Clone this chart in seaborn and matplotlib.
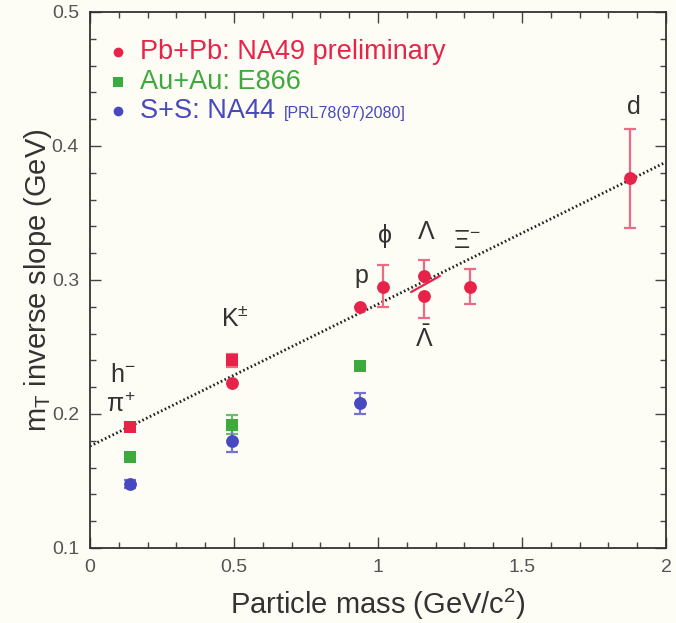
import matplotlib
matplotlib.use("Agg")
import matplotlib.pyplot as plt
import numpy as np
import pandas as pd
import seaborn as sns
from matplotlib.ticker import MultipleLocator

# Pb+Pb: NA49 preliminary (circles)
pb_mass = [0.494, 0.938, 1.019, 1.16, 1.16, 1.321, 1.876]
pb_slope = [0.223, 0.280, 0.295, 0.303, 0.288, 0.295, 0.376]
pb_err_lo = [0.0, 0.0, 0.015, 0.0, 0.016, 0.013, 0.037]
pb_err_hi = [0.0, 0.0, 0.016, 0.012, 0.0, 0.013, 0.037]
# Pb+Pb: NA49 negative hadrons / kaons (squares)
pbh_mass = [0.14, 0.494]
pbh_slope = [0.190, 0.240]
pbh_err = [0.003, 0.005]
# Au+Au: E866
au_mass = [0.14, 0.494, 0.938]
au_slope = [0.168, 0.192, 0.236]
au_err = [0.002, 0.007, 0.002]
# S+S: NA44
ss_mass = [0.14, 0.494, 0.938]
ss_slope = [0.148, 0.180, 0.208]
ss_err = [0.003, 0.008, 0.008]
# linear systematics
fit_mass = [0.0, 2.0]
fit_slope = [0.176, 0.388]
# Lambda / anti-Lambda connector
lam_mass = [1.115, 1.215]
lam_slope = [0.291, 0.303]

particle_labels = ["h$^{-}$", "$\\pi^{+}$", "K$^{\\pm}$", "p", "$\\phi$", "$\\Lambda$",
                   "$\\Xi^{-}$", "$\\bar{\\Lambda}$", "d"]

RED = "#e8234a"
RED_ERR = "#ec6a84"
GREEN = "#3caa3c"
BLUE = "#4848c0"
BG = "#fdfdf6"
TXT = "#333333"

sns.set_theme(style="ticks")
plt.rcParams["font.family"] = ["Liberation Sans", "DejaVu Sans"]
plt.rcParams["mathtext.fontset"] = "custom"
plt.rcParams["mathtext.rm"] = "Liberation Sans"
plt.rcParams["mathtext.it"] = "Liberation Sans"
plt.rcParams["mathtext.sf"] = "Liberation Sans"

fig = plt.figure(figsize=(6.76, 6.23), dpi=100, facecolor=BG)
ax = fig.add_axes([90 / 676, 1 - 548 / 623, 576 / 676, 536 / 623])
ax.set_facecolor(BG)

# fit line
sns.lineplot(x=fit_mass, y=fit_slope, ax=ax, color="#222222", lw=2.0,
             linestyle=(0, (0.6, 0.9)), zorder=2)

# Lambda pair connector
sns.lineplot(x=lam_mass, y=lam_slope, ax=ax, color=RED, lw=1.6, zorder=2)

ebkw = dict(fmt="none", capsize=4.5, elinewidth=1.6, capthick=1.6, zorder=3)
ax.errorbar(pb_mass, pb_slope, yerr=[pb_err_lo, pb_err_hi], ecolor=RED_ERR, **ebkw)
ax.errorbar(pbh_mass, pbh_slope, yerr=pbh_err, ecolor=RED_ERR, **ebkw)
ax.errorbar(au_mass, au_slope, yerr=au_err, ecolor="#6cc06c", **ebkw)
ax.errorbar(ss_mass, ss_slope, yerr=ss_err, ecolor="#7474d0", **ebkw)

sns.scatterplot(x=pb_mass, y=pb_slope, ax=ax, color=RED, marker="o", s=85,
                edgecolor=RED, linewidth=0, zorder=4)
sns.scatterplot(x=pbh_mass, y=pbh_slope, ax=ax, color=RED, marker="s", s=75,
                edgecolor=RED, linewidth=0, zorder=4)
sns.scatterplot(x=au_mass, y=au_slope, ax=ax, color=GREEN, marker="s", s=75,
                edgecolor=GREEN, linewidth=0, zorder=4)
sns.scatterplot(x=ss_mass, y=ss_slope, ax=ax, color=BLUE, marker="o", s=85,
                edgecolor=BLUE, linewidth=0, zorder=4)

# particle labels
label_pos = [(0.115, 0.229), (0.108, 0.207), (0.505, 0.271), (0.941, 0.303),
             (1.024, 0.333), (1.167, 0.336), (1.309, 0.329), (1.160, 0.256),
             (1.889, 0.429)]
for txt, (lx, ly) in zip(particle_labels, label_pos):
    ax.text(lx, ly, txt, ha="center", va="center", fontsize=18, color=TXT)

# legend
leg_rows = [(0.925, RED, "o", "Pb+Pb: NA49 preliminary"),
            (0.869, GREEN, "s", "Au+Au: E866"),
            (0.815, BLUE, "o", "S+S: NA44")]
last = None
for ly, col, mk, name in leg_rows:
    ax.plot([0.0486], [ly], marker=mk, color=col, ms=7, mew=0,
            transform=ax.transAxes, clip_on=False)
    last = ax.text(0.087, ly, name, transform=ax.transAxes, ha="left", va="center",
                   fontsize=19.5, color=col)
ax.annotate("[PRL78(97)2080]", xy=(1.0, 0.40), xycoords=last,
            xytext=(6, 0), textcoords="offset points", ha="left", va="center",
            fontsize=11.5, color=BLUE)

ax.set_xlim(0, 2)
ax.set_ylim(0.1, 0.5)
ax.xaxis.set_minor_locator(MultipleLocator(0.1))
ax.yaxis.set_minor_locator(MultipleLocator(0.02))
ax.set_xticks([0, 0.5, 1, 1.5, 2])
ax.set_xticklabels(["0", "0.5", "1", "1.5", "2"])
ax.set_yticks([0.1, 0.2, 0.3, 0.4, 0.5])
ax.set_yticklabels(["0.1", "0.2", "0.3", "0.4", "0.5"])
ax.tick_params(which="both", direction="in", top=True, right=True,
               colors="#444444", labelsize=14, labelcolor="#555555", width=1.0)
ax.tick_params(which="major", length=8, pad=8)
ax.tick_params(which="minor", length=4)
for sp in ax.spines.values():
    sp.set_visible(True)
    sp.set_color("#333333")
    sp.set_linewidth(1.3)

ax.set_xlabel("Particle mass (GeV/c$^{2}$)", fontsize=21, color=TXT, labelpad=8)
ax.set_ylabel("m$_{T}$ inverse slope (GeV)", fontsize=21, color=TXT, labelpad=0)
ax.yaxis.set_label_coords(-0.062, 0.5)

fig.savefig("out.png", dpi=100, facecolor=BG)
